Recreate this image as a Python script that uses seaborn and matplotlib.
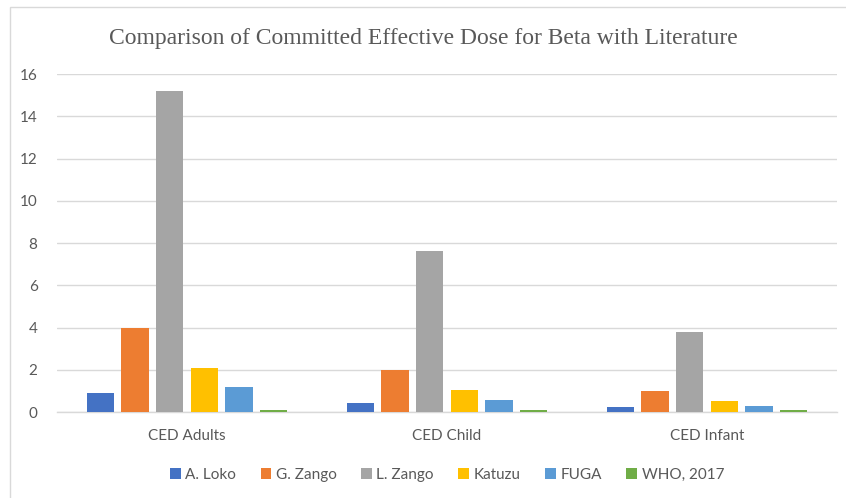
import matplotlib
matplotlib.use("Agg")
import matplotlib.pyplot as plt
import seaborn as sns
import pandas as pd
from matplotlib.patches import Rectangle

categories = ["CED Adults", "CED Child", "CED Infant"]
series = ["A. Loko", "G. Zango", "L. Zango", "Katuzu", "FUGA", "WHO, 2017"]
a_loko = [0.88, 0.44, 0.22]
g_zango = [4.0, 2.0, 1.0]
l_zango = [15.2, 7.6, 3.8]
katuzu = [2.1, 1.05, 0.52]
fuga = [1.16, 0.58, 0.29]
who_2017 = [0.1, 0.1, 0.1]
colors = ["#4472C4", "#ED7D31", "#A5A5A5", "#FFC000", "#5B9BD5", "#70AD47"]

rows = []
for name, vals in zip(series, [a_loko, g_zango, l_zango, katuzu, fuga, who_2017]):
    for c, v in zip(categories, vals):
        rows.append({"cat": c, "series": name, "value": v})
df = pd.DataFrame(rows)

sns.set_theme(style="white")
plt.rcParams['font.family'] = ['Lato', 'DejaVu Sans']

fig = plt.figure(figsize=(8.46, 4.98), dpi=100)
ax = fig.add_axes([57/846, 1 - 412/498, 780/846, (412-74)/498])

sns.barplot(data=df, x="cat", y="value", hue="series", hue_order=series,
            order=categories, palette=colors, width=0.8, gap=0.22,
            saturation=1, ax=ax, legend=True, linewidth=0)
for p in ax.patches:
    p.set_zorder(3)

ax.set_ylim(0, 16)
ax.set_yticks(range(0, 17, 2))
ax.set_xlim(-0.5, 2.5)
ax.yaxis.grid(True, color="#D9D9D9", linewidth=1)
ax.set_axisbelow(True)
for s in ["top", "right", "left"]:
    ax.spines[s].set_visible(False)
ax.spines["bottom"].set_color("#D9D9D9")
ax.spines["bottom"].set_linewidth(1)
ax.spines["bottom"].set_zorder(1)
ax.tick_params(axis="both", length=0, labelsize=11, labelcolor="#595959")
ax.tick_params(axis="y", pad=14)
ax.tick_params(axis="x", pad=12)
ax.set_xlabel("")
ax.set_ylabel("")

leg = ax.legend(loc="upper center", bbox_to_anchor=(0.5, -0.125), ncol=6,
                frameon=False, fontsize=11, handlelength=0.7, handleheight=0.7,
                handletextpad=0.3, columnspacing=1.6)
for t in leg.get_texts():
    t.set_color("#595959")

fig.text(0.5, 1 - 38/498, "Comparison of Committed Effective Dose for Beta with Literature",
         ha="center", va="center", fontsize=17, color="#595959",
         family=["Liberation Serif", "DejaVu Serif"])

fig.patches.append(Rectangle((9.5/846, -0.1), 2, (498 - 7.5)/498 + 0.1,
                             transform=fig.transFigure, fill=False,
                             edgecolor="#D9D9D9", linewidth=1))

fig.savefig("out.png", dpi=100)
